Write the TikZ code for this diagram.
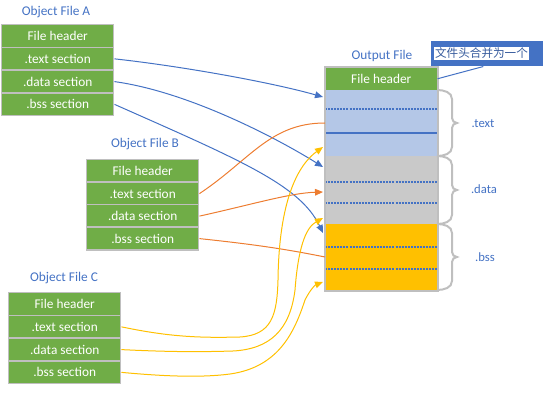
\documentclass[tikz,border=0pt]{standalone}
\usepackage{fontspec}
\setmainfont{Carlito}
\newfontfamily\cjk{Noto Sans CJK SC}
\usetikzlibrary{arrows.meta}
\definecolor{objgreen}{HTML}{70AD47}
\definecolor{mblue}{HTML}{4472C4}
\definecolor{morange}{HTML}{ED7D31}
\definecolor{myellow}{HTML}{FFC000}
\definecolor{secgray}{HTML}{C9C9C9}
\definecolor{lblue}{HTML}{B4C7E7}
\definecolor{boxgray}{HTML}{BFBFBF}
\newcommand\secbrace[2]{%
  \draw[boxgray, line width=1.5pt] (437,#1) to[out=0,in=90] (452,{#1+9}) -- (452,{(#1+#2)/2-5}) to[out=-90,in=180] (457,{(#1+#2)/2}) to[out=180,in=90] (452,{(#1+#2)/2+5}) -- (452,{#2-9}) to[out=-90,in=0] (437,#2);}
\tikzset{
  secbox/.style={draw=boxgray, line width=1.1pt, fill=objgreen, text=white, minimum width=84pt, minimum height=17.06pt, inner sep=0pt, anchor=north west, font=\fontsize{10}{12}\selectfont},
  outsec/.style={draw=none, minimum width=84pt, inner sep=0pt, anchor=north west, text=white, font=\fontsize{10}{12}\selectfont},
  title/.style={text=mblue, inner sep=0pt, font=\fontsize{10}{12}\selectfont},
  seclabel/.style={text=mblue, inner sep=0pt, font=\fontsize{9.5}{11}\selectfont},
  conn/.style={line width=0.75pt},
  tip/.style={-{Triangle[length=6pt,width=5pt]}},
  dotline/.style={mblue, line width=1.1pt, dash pattern=on 1.5pt off 0.8pt},
}
\begin{document}
\begin{tikzpicture}[x=0.75pt,y=-0.75pt]
\useasboundingbox (0,0) rectangle (543,420);
% Object File A
\node[title] (ta) at (56,12) {Object File A};
\node[secbox] (A1) at (1,24) {File header};
\node[secbox] (A2) at (1,46.75) {.text section};
\node[secbox] (A3) at (1,69.5) {.data section};
\node[secbox] (A4) at (1,92.25) {.bss section};
% Object File B
\node[title] (tb) at (145,144) {Object File B};
\node[secbox] (B1) at (86,159) {File header};
\node[secbox] (B2) at (86,181.5) {.text section};
\node[secbox] (B3) at (86,204) {.data section};
\node[secbox] (B4) at (86,226.5) {.bss section};
% Object File C
\node[title] (tc) at (64,278) {Object File C};
\node[secbox] (C1) at (8,292) {File header};
\node[secbox] (C2) at (8,314.75) {.text section};
\node[secbox] (C3) at (8,337.5) {.data section};
\node[secbox] (C4) at (8,360.25) {.bss section};
% Output file
\node[title] (to) at (382,56) {Output File};
\node[outsec, fill=objgreen, minimum height=17.25pt] (Oh) at (325,67) {File header};
\node[outsec, fill=lblue, minimum height=49.5pt] (Ot) at (325,90) {};
\node[outsec, fill=secgray, minimum height=51pt] (Od) at (325,156) {};
\node[outsec, fill=myellow, minimum height=49.5pt] (Ob) at (325,224) {};
\draw[dotline] (325,109) -- (437,109);
\draw[mblue, line width=1.1pt] (325,133) -- (437,133);
\draw[dotline] (325,182) -- (437,182);
\draw[dotline] (325,203) -- (437,203);
\draw[dotline] (325,247) -- (437,247);
\draw[dotline] (325,269) -- (437,269);
\draw[boxgray, line width=1.5pt] (Oh.north west) rectangle (Ob.south east);
% braces
\secbrace{90}{156}
\secbrace{156}{224}
\secbrace{224}{290}
\node[seclabel] (lt) at (483,124) {.text};
\node[seclabel] (ld) at (484,189) {.data};
\node[seclabel] (lb) at (485,257) {.bss};
% callout
\node[fill=mblue, minimum width=84pt, minimum height=18.75pt, inner sep=0pt, anchor=north west] (cb) at (431,41) {};
\node[fill=white, text=mblue!80!black, inner sep=0.6pt, font=\cjk\fontsize{8.7}{10}\selectfont] (ct) at (481.5,53.5) {文件头合并为一个};
\draw[mblue, conn] ([xshift=-3pt]cb.south) -- (Oh.east);
% target coordinates
\coordinate (tA2) at (323,97);
\coordinate (tA3) at (323,167);
\coordinate (tA4) at (323,233);
\coordinate (tB2) at (325,123);
\coordinate (tB3) at (323,192);
\coordinate (tB4) at (325,257);
\coordinate (tC2) at (323,147);
\coordinate (tC3) at (323,218);
\coordinate (tC4) at (323,282);
% blue
\draw[mblue, conn, tip] (A2.east) .. controls (180,66) and (270,82) .. (tA2);
\draw[mblue, conn, tip] (A3.east) .. controls (190,92) and (280,140) .. (tA3);
\draw[mblue, conn, tip] (A4.east) .. controls (240,160) and (300,185) .. (tA4);
% orange
\draw[morange, conn] (B2.east) .. controls (250,160) and (270,123) .. (tB2);
\draw[morange, conn, tip] (B3.east) .. controls (250,205) and (290,193) .. (tB3);
\draw[morange, conn] (B4.east) .. controls (260,245) and (290,250) .. (tB4);
% yellow
\draw[myellow, conn, tip] (C2.east) .. controls (170,337) and (200,338) .. (240,337) .. controls (272,335) and (277,315) .. (278,280) .. controls (279,200) and (298,165) .. (tC2);
\draw[myellow, conn, tip] (C3.east) .. controls (170,352) and (200,352) .. (233,351) .. controls (270,349) and (290,330) .. (295,290) .. controls (298,250) and (305,228) .. (tC3);
\draw[myellow, conn, tip] (C4.east) .. controls (160,376) and (200,378) .. (230,374) .. controls (280,367) and (295,330) .. (305,300) .. controls (310,290) and (315,285) .. (tC4);
\end{tikzpicture}
\end{document}
